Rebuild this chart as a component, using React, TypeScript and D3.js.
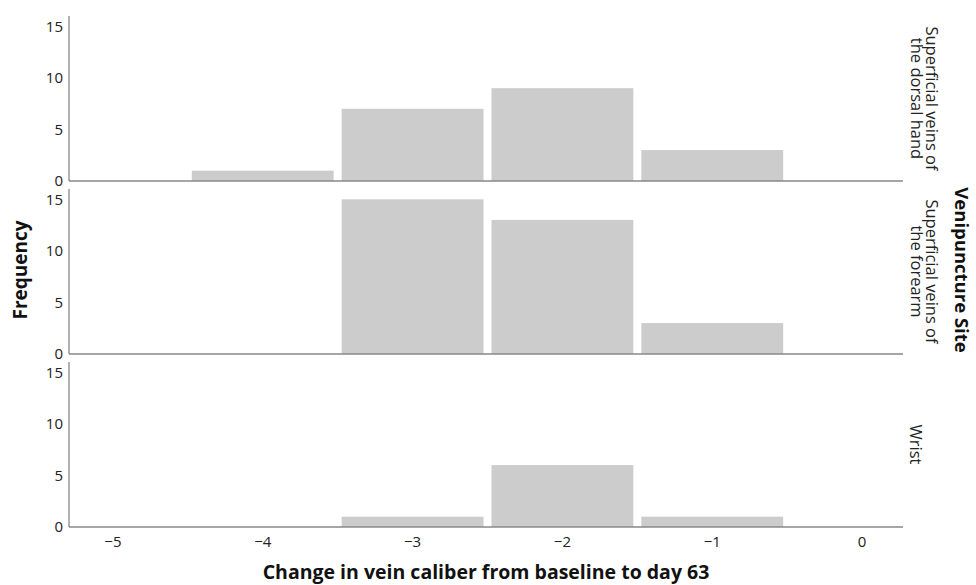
import { useEffect, useRef } from 'react';
import * as d3 from 'd3';

// bins are centred on whole numbers, width 1
const binCenters = [-4, -3, -2, -1];
const sites = ['Superficial veins of\nthe dorsal hand', 'Superficial veins of\nthe forearm', 'Wrist'];
const hand = [1, 7, 9, 3];
const forearm = [0, 15, 13, 3];
const wrist = [0, 1, 6, 1];
const siteCounts = [hand, forearm, wrist];
const xTicks = [-5, -4, -3, -2, -1, 0];
const yTicks = [0, 5, 10, 15];

const W = 976;
const H = 585;
const FONT = '"Open Sans", "DejaVu Sans", sans-serif';

export default function App() {
  const svgRef = useRef<SVGSVGElement>(null);

  useEffect(() => {
    const svg = d3.select(svgRef.current);
    svg.selectAll('*').remove();

    const left = 69, right = 903;
    const panelH = 165, gap = 8, top0 = 16;

    const x = d3.scaleLinear().domain([-5.293, 0.273]).range([left, right]);

    sites.forEach((site, i) => {
      const top = top0 + i * (panelH + gap);
      const bottom = top + panelH;
      const y = d3.scaleLinear().domain([0, 16]).range([bottom, top]);
      const g = svg.append('g');

      // bars
      g.selectAll('rect')
        .data(binCenters.map((c, j) => ({ c, n: siteCounts[i][j] })).filter(d => d.n > 0))
        .join('rect')
        .attr('x', d => x(d.c - 0.5) + 4)
        .attr('width', d => x(d.c + 0.5) - x(d.c - 0.5) - 8)
        .attr('y', d => y(d.n))
        .attr('height', d => y(0) - y(d.n))
        .attr('fill', '#cccccc');

      // axes lines
      g.append('line')
        .attr('x1', left).attr('x2', left)
        .attr('y1', top).attr('y2', bottom)
        .attr('stroke', '#888').attr('stroke-width', 1.3);
      g.append('line')
        .attr('x1', left).attr('x2', right)
        .attr('y1', bottom).attr('y2', bottom)
        .attr('stroke', '#888').attr('stroke-width', 1.3);

      // y tick labels
      g.selectAll('text.yt')
        .data(yTicks)
        .join('text')
        .attr('class', 'yt')
        .attr('x', left - 6)
        .attr('y', d => y(d))
        .attr('dy', '0.35em')
        .attr('text-anchor', 'end')
        .style('font-family', FONT)
        .style('font-size', '15px')
        .style('fill', '#222')
        .text(d => d);

      // facet label
      const lines = site.split('\n');
      const cy = (top + bottom) / 2;
      const lx = lines.length > 1 ? 924.5 : 916;
      const t = g.append('text')
        .attr('transform', `translate(${lx},${cy}) rotate(90)`)
        .attr('text-anchor', 'middle')
        .style('font-family', FONT)
        .style('font-size', '16.5px')
        .style('fill', '#222');
      lines.forEach((ln, k) => {
        t.append('tspan')
          .attr('x', 0)
          .attr('y', (k - (lines.length - 1) / 2) * 15.5)
          .attr('dy', '0.35em')
          .text(ln);
      });
    });

    // x tick labels (bottom panel only)
    svg.selectAll('text.xt')
      .data(xTicks)
      .join('text')
      .attr('class', 'xt')
      .attr('x', d => x(d))
      .attr('y', 542)
      .attr('dy', '0.35em')
      .attr('text-anchor', 'middle')
      .style('font-family', FONT)
      .style('font-size', '15px')
      .style('fill', '#222')
      .text(d => (d < 0 ? '\u2212' + Math.abs(d) : d));

    // titles
    svg.append('text')
      .attr('x', (left + right) / 2)
      .attr('y', 579)
      .attr('text-anchor', 'middle')
      .style('font-family', FONT)
      .style('font-size', '19.5px')
      .style('font-weight', 'bold')
      .style('fill', '#111')
      .text('Change in vein caliber from baseline to day 63');

    svg.append('text')
      .attr('transform', 'translate(20,270) rotate(-90)')
      .attr('text-anchor', 'middle')
      .attr('dy', '0.35em')
      .style('font-family', FONT)
      .style('font-size', '19px')
      .style('font-weight', 'bold')
      .style('fill', '#111')
      .text('Frequency');

    svg.append('text')
      .attr('transform', 'translate(961,270) rotate(90)')
      .attr('text-anchor', 'middle')
      .attr('dy', '0.35em')
      .style('font-family', FONT)
      .style('font-size', '18.5px')
      .style('font-weight', 'bold')
      .style('fill', '#111')
      .text('Venipuncture Site');
  }, []);

  return (
    <svg
      ref={svgRef}
      width={W}
      height={H}
      style={{ position: 'absolute', left: 0, top: 0, background: '#fff' }}
    />
  );
}
